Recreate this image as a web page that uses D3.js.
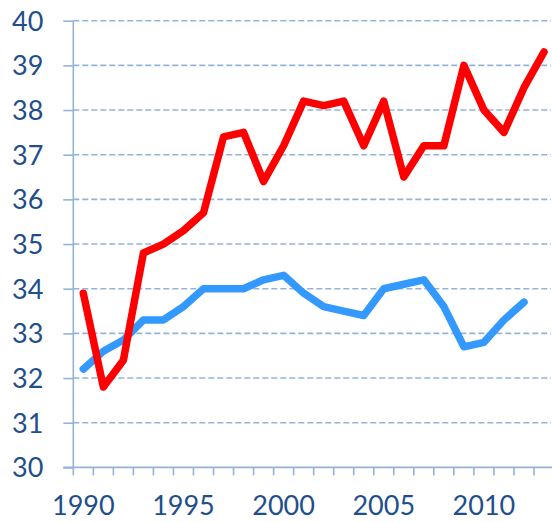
<!DOCTYPE html>
<html>
<head>
<meta charset="utf-8">
<script src="https://cdn.jsdelivr.net/npm/d3@7"></script>
<style>
  body { margin: 0; background: #fff; }
  svg text { font-family: Lato, "Open Sans", sans-serif; fill: #1F4E8C; }
</style>
</head>
<body>
<div id="viz"></div>
<script>
var years = d3.range(1990, 2014);
var redValues = [33.9, 31.8, 32.4, 34.8, 35.0, 35.3, 35.7, 37.4, 37.5, 36.4, 37.2, 38.2,
                 38.1, 38.2, 37.2, 38.2, 36.5, 37.2, 37.2, 39.0, 38.0, 37.5, 38.5, 39.3];
var blueValues = [32.2, 32.6, 32.85, 33.3, 33.3, 33.6, 34.0, 34.0, 34.0, 34.2, 34.3, 33.9,
                  33.6, 33.5, 33.4, 34.0, 34.1, 34.2, 33.6, 32.7, 32.8, 33.3, 33.7];
var yTicks = [30, 31, 32, 33, 34, 35, 36, 37, 38, 39, 40];
var xLabels = [1990, 1995, 2000, 2005, 2010];

var width = 552, height = 522,
    margin = {top: 20.7, right: 0, bottom: 55, left: 73.3};

var svg = d3.select('#viz').append('svg')
    .attr('width', width)
    .attr('height', height);

var x = d3.scaleBand()
    .domain(years)
    .range([margin.left, margin.left + 20.03 * years.length]);

var y = d3.scaleLinear()
    .domain([30, 40])
    .range([467.4, margin.top]);

var axisColor = '#95B3D7';

// gridlines
svg.append('g').selectAll('line')
    .data(yTicks.filter(function(d) { return d > 30; }))
    .enter().append('line')
      .attr('x1', margin.left)
      .attr('x2', 551)
      .attr('y1', function(d) { return y(d); })
      .attr('y2', function(d) { return y(d); })
      .attr('stroke', axisColor)
      .attr('stroke-width', 1.6)
      .attr('stroke-dasharray', '6,3');

// y axis
var yAxis = svg.append('g')
    .attr('transform', 'translate(' + margin.left + ',0)')
    .call(d3.axisLeft(y).tickValues(yTicks).tickSize(10).tickPadding(20).tickFormat(d3.format('d')));
yAxis.select('.domain').remove();
yAxis.selectAll('line').attr('stroke', axisColor).attr('stroke-width', 1.6);
yAxis.selectAll('text').attr('font-size', 27).attr('fill', '#1F4E8C').attr('dy', '0.35em');
yAxis.append('line')
    .attr('y1', y(30)).attr('y2', y(40))
    .attr('stroke', axisColor).attr('stroke-width', 1.6);

// x axis
var xg = svg.append('g').attr('transform', 'translate(0,' + y(30) + ')');
xg.append('line')
    .attr('x1', margin.left - 10).attr('x2', x.range()[1])
    .attr('stroke', axisColor).attr('stroke-width', 1.6);
xg.selectAll('line.tick')
    .data(years.concat([2014]))
    .enter().append('line')
      .attr('class', 'tick')
      .attr('x1', function(d, i) { return x.range()[0] + i * x.step(); })
      .attr('x2', function(d, i) { return x.range()[0] + i * x.step(); })
      .attr('y1', 0).attr('y2', 8)
      .attr('stroke', axisColor).attr('stroke-width', 1.6);
xg.selectAll('text')
    .data(xLabels)
    .enter().append('text')
      .attr('x', function(d) { return x(d) + x.bandwidth() / 2; })
      .attr('y', 48)
      .attr('text-anchor', 'middle')
      .attr('font-size', 27)
      .text(function(d) { return d; });

var line = d3.line()
    .x(function(d, i) { return x(years[i]) + x.bandwidth() / 2; })
    .y(function(d) { return y(d); });

svg.append('path')
    .datum(blueValues)
    .attr('d', line)
    .attr('fill', 'none')
    .attr('stroke', '#3399FF')
    .attr('stroke-width', 7.5)
    .attr('stroke-linejoin', 'round')
    .attr('stroke-linecap', 'round');

svg.append('path')
    .datum(redValues)
    .attr('d', line)
    .attr('fill', 'none')
    .attr('stroke', '#FF0000')
    .attr('stroke-width', 7.5)
    .attr('stroke-linejoin', 'round')
    .attr('stroke-linecap', 'round');
</script>
</body>
</html>
